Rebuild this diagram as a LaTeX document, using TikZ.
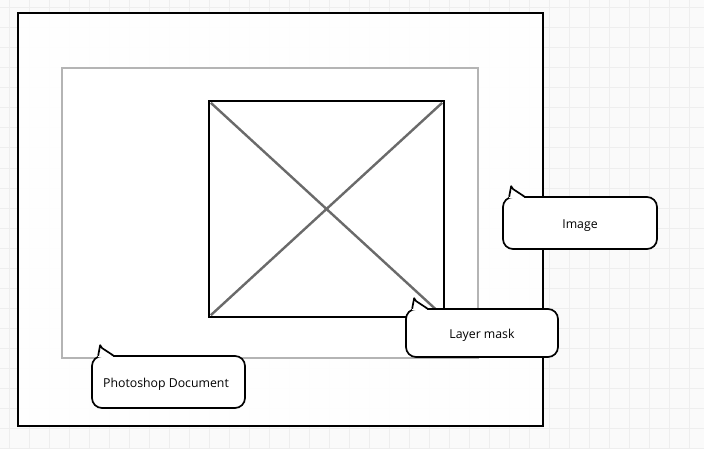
\documentclass[tikz,border=0pt]{standalone}
\usepackage{fontspec}
\setmainfont{Open Sans}
\usetikzlibrary{calc}
\definecolor{bggrid}{HTML}{EEEEEE}
\definecolor{bgfill}{HTML}{FAFAFA}
\definecolor{framegray}{HTML}{B4B4B4}
\definecolor{diag}{HTML}{6A6A6A}
\tikzset{
  box/.style={draw=black, fill=white, inner sep=0pt},
  bubble/.style={draw=black, fill=white, line width=1.7pt, rounded corners=10pt, inner sep=0pt, font=\fontsize{12.3}{14}\selectfont},
}
\newcommand{\bubtail}[1]{%
  \fill[white] ($(#1.north west)+(7,-1.6)$) -- ($(#1.north west)+(9,10)$) -- ($(#1.north west)+(22,-1.6)$) -- cycle;
  \draw[line width=1.7pt, line join=round] ($(#1.north west)+(7,-0.6)$) -- ($(#1.north west)+(9,10)$) -- ($(#1.north west)+(11,7)$) -- ($(#1.north west)+(22,-0.2)$);
}
\newcommand{\bubtext}[1]{\raisebox{-2.5pt}[\height][\depth]{#1}}
\begin{document}
\begin{tikzpicture}[x=1pt,y=1pt]
\useasboundingbox (0,0) rectangle (704,448);
\fill[bgfill] (0,0) rectangle (704,448);
\foreach \x in {9,29,...,709} \draw[bggrid, line width=1pt] (\x,0) -- (\x,448);
\foreach \y in {0,20,...,440} \draw[bggrid, line width=1pt] (0,\y) -- (704,\y);
% outer document
\node[box, line width=2.8pt, fill opacity=0.93, minimum width=525, minimum height=413] (doc) at (280.5,228.5) {};
% gray canvas
\node[box, draw=framegray, line width=2pt, minimum width=416, minimum height=290] (canvas) at (270,235) {};
% image placeholder
\node[box, line width=2.4pt, minimum width=235, minimum height=216] (img) at (326.5,239) {};
\draw[diag, line width=2.4pt] ($(img.north west)+(3,-3)$) -- ($(img.south east)+(-3,3)$);
\draw[diag, line width=2.4pt] ($(img.south west)+(3,3)$) -- ($(img.north east)+(-3,-3)$);
% bubbles
\node[bubble, minimum width=154, minimum height=52] (bimage) at (580,225) {\bubtext{Image}};
\bubtail{bimage}
\node[bubble, minimum width=152, minimum height=48] (bmask) at (482,115) {\bubtext{Layer mask}};
\bubtail{bmask}
\node[bubble, minimum width=153, minimum height=52] (bdoc) at (168.5,66) {\bubtext{\hspace*{-5pt}Photoshop Document}};
\bubtail{bdoc}
\end{tikzpicture}
\end{document}
